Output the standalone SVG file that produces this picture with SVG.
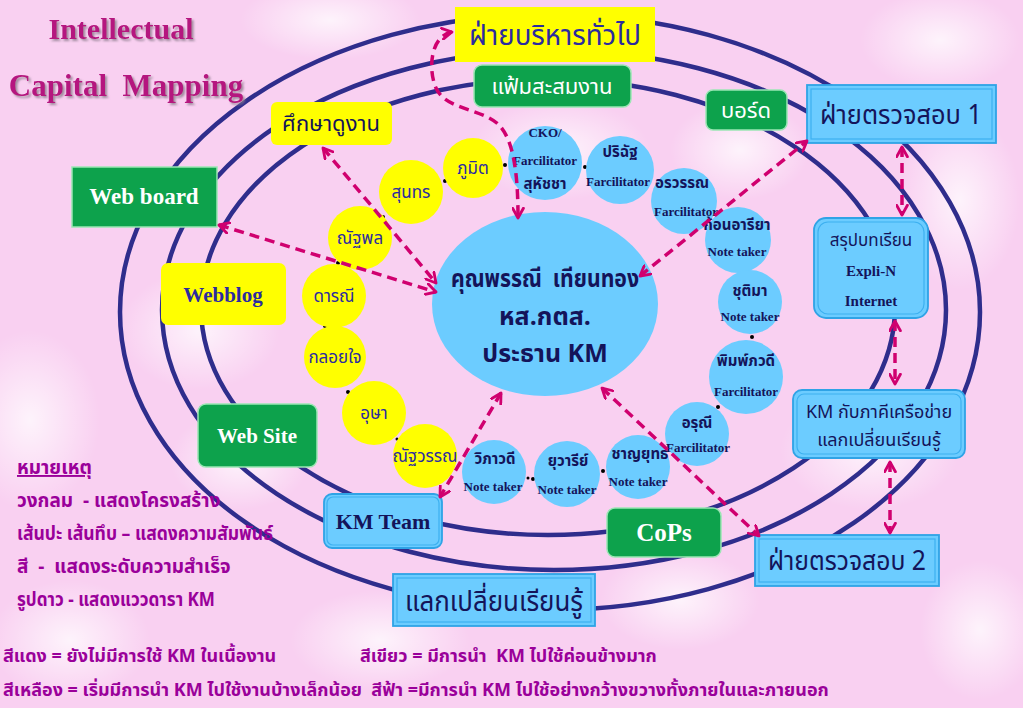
<svg xmlns="http://www.w3.org/2000/svg" width="1023" height="708" viewBox="0 0 1023 708">
<defs>
<radialGradient id="petal" cx="50%" cy="50%" r="50%">
<stop offset="0" stop-color="#ffffff" stop-opacity="0.75"/>
<stop offset="1" stop-color="#ffffff" stop-opacity="0"/>
</radialGradient>
<filter id="shadow" x="-10%" y="-30%" width="120%" height="160%">
<feDropShadow dx="2" dy="2" stdDeviation="0.8" flood-color="#8a7a8a" flood-opacity="0.8"/>
</filter>
<marker id="ah" viewBox="0 0 12 12" refX="10" refY="6" markerWidth="13" markerHeight="13" markerUnits="userSpaceOnUse" orient="auto-start-reverse">
<path d="M1,1 L10,6 L1,11" fill="none" stroke="#d0006f" stroke-width="2.6" stroke-linecap="round" stroke-linejoin="round"/>
</marker>
</defs>
<style>
.ring{fill:none;stroke:#2f2d8c;stroke-width:4.5}
.yb{fill:#ffff00}
.gb{fill:#0da24c;stroke:#9be6b4;stroke-width:1.5}
.bb{fill:#6cccff;stroke:#2fa3e6;stroke-width:1.8}
.bbi{fill:none;stroke:#3db0f0;stroke-width:1.2}
.yc{fill:#ffff00}
.bc{fill:#6cccff}
.dot{fill:#000}
.th{font-family:'Noto Sans Thai','Noto Serif Thai','Liberation Serif',serif}
.en{font-family:'Liberation Serif','Times New Roman',serif;font-weight:bold}
.navy{fill:#14145a}
.blue{fill:#2b2ba0}
.white{fill:#ffffff}
.mag{fill:#9a009a}
.conn{fill:none;stroke:#d0006f;stroke-width:3.5;stroke-dasharray:10 6;marker-start:url(#ah);marker-end:url(#ah)}
</style>
<rect x="0" y="0" width="1023" height="708" fill="#f9d0f1"/>
<g id="background-petals">
<ellipse cx="330" cy="20" rx="90" ry="40" fill="url(#petal)"/>
<ellipse cx="940" cy="40" rx="80" ry="50" fill="url(#petal)"/>
<ellipse cx="30" cy="420" rx="70" ry="90" fill="url(#petal)"/>
<ellipse cx="200" cy="330" rx="80" ry="60" fill="url(#petal)"/>
<ellipse cx="560" cy="150" rx="90" ry="50" fill="url(#petal)"/>
<ellipse cx="740" cy="150" rx="70" ry="50" fill="url(#petal)"/>
<ellipse cx="960" cy="200" rx="60" ry="90" fill="url(#petal)"/>
<ellipse cx="870" cy="450" rx="90" ry="60" fill="url(#petal)"/>
<ellipse cx="980" cy="630" rx="60" ry="70" fill="url(#petal)"/>
<ellipse cx="380" cy="640" rx="90" ry="50" fill="url(#petal)"/>
<ellipse cx="680" cy="600" rx="80" ry="50" fill="url(#petal)"/>
<ellipse cx="240" cy="460" rx="70" ry="50" fill="url(#petal)"/>
<ellipse cx="70" cy="640" rx="80" ry="60" fill="url(#petal)"/>
</g>
<g id="structure-rings">
<ellipse class="ring" cx="550" cy="312" rx="430" ry="298"/>
<ellipse class="ring" cx="554" cy="310" rx="392" ry="260"/>
<ellipse class="ring" cx="548" cy="307" rx="347" ry="228"/>
</g>
<g id="title" filter="url(#shadow)">
<text class="en" x="121" y="39" font-size="30" text-anchor="middle" fill="#b5127f">Intellectual</text>
<text class="en" x="126" y="96" font-size="31" text-anchor="middle" fill="#b5127f" xml:space="preserve">Capital  Mapping</text>
</g>
<g id="star-dots">
<circle class="dot" cx="445" cy="181" r="2"/>
<circle class="dot" cx="505" cy="165" r="2"/>
<circle class="dot" cx="585" cy="167" r="2"/>
<circle class="dot" cx="383" cy="217" r="2"/>
<circle class="dot" cx="338" cy="263" r="2"/>
<circle class="dot" cx="325" cy="326" r="2"/>
<circle class="dot" cx="348" cy="392" r="2"/>
<circle class="dot" cx="397" cy="439" r="1.5"/>
<circle class="dot" cx="528" cy="478" r="1.5"/>
<circle class="dot" cx="533" cy="479" r="2"/>
<circle class="dot" cx="603" cy="471" r="2"/>
<circle class="dot" cx="718" cy="407" r="2"/>
<circle class="dot" cx="752" cy="337" r="2"/>
<circle class="dot" cx="742" cy="269" r="2"/>
</g>
<g id="node-center">
<ellipse class="bc" cx="545" cy="304" rx="113" ry="92"/>
<text class="th navy" x="545" y="287" font-size="25" font-weight="bold" text-anchor="middle" textLength="188" lengthAdjust="spacingAndGlyphs" xml:space="preserve">คุณพรรณี  เทียนทอง</text>
<text class="th navy" x="545" y="325" font-size="25" font-weight="bold" text-anchor="middle">หส.กตส.</text>
<text class="th navy" x="545" y="362" font-size="25" font-weight="bold" text-anchor="middle">ประธาน KM</text>
</g>
<g id="node-admin">
<rect class="yb" x="455" y="7" width="200" height="55"/>
<text class="th blue" x="555" y="45" font-size="29" text-anchor="middle" textLength="172" lengthAdjust="spacingAndGlyphs">ฝ่ายบริหารทั่วไป</text>
</g>
<g id="node-portfolio">
<rect class="gb" x="474" y="65" width="157" height="42" rx="8"/>
<text class="th white" x="552" y="94" font-size="22" text-anchor="middle">แฟ้มสะสมงาน</text>
</g>
<g id="node-board">
<rect class="gb" x="706" y="90" width="81" height="40" rx="7"/>
<text class="th white" x="746" y="118" font-size="22" text-anchor="middle">บอร์ด</text>
</g>
<g id="node-audit1">
<rect class="bb" x="807" y="85" width="189" height="58"/>
<rect class="bbi" x="811" y="89" width="181" height="50"/>
<text class="th navy" x="901" y="124" font-size="27" text-anchor="middle" textLength="162" lengthAdjust="spacingAndGlyphs">ฝ่ายตรวจสอบ 1</text>
</g>
<g id="node-studyvisit">
<rect class="yb" x="271" y="102" width="121" height="43" rx="6"/>
<text class="th navy" x="331" y="131" font-size="22" text-anchor="middle">ศึกษาดูงาน</text>
</g>
<g id="node-webboard">
<rect class="gb" x="72" y="167" width="145" height="60"/>
<text class="en white" x="144" y="204" font-size="23" text-anchor="middle">Web board</text>
</g>
<g id="node-webblog">
<rect class="yb" x="161" y="263" width="125" height="62" rx="7"/>
<text class="en blue" x="223" y="302" font-size="21" text-anchor="middle">Webblog</text>
</g>
<g id="node-website">
<rect class="gb" x="198" y="404" width="119" height="63" rx="8"/>
<text class="en white" x="257" y="443" font-size="21" text-anchor="middle">Web Site</text>
</g>
<g id="node-kmteam">
<rect class="bb" x="324" y="494" width="118" height="54" rx="8"/>
<rect class="bbi" x="327" y="497" width="112" height="48" rx="6"/>
<text class="en navy" x="383" y="529" font-size="22" text-anchor="middle">KM Team</text>
</g>
<g id="node-exchange">
<rect class="bb" x="393" y="574" width="202" height="52"/>
<rect class="bbi" x="397" y="578" width="194" height="44"/>
<text class="th navy" x="494" y="611" font-size="28" text-anchor="middle" textLength="178" lengthAdjust="spacingAndGlyphs">แลกเปลี่ยนเรียนรู้</text>
</g>
<g id="node-cops">
<rect class="gb" x="607" y="508" width="114" height="49" rx="8"/>
<text class="en white" x="664" y="541" font-size="25" text-anchor="middle">CoPs</text>
</g>
<g id="node-audit2">
<rect class="bb" x="755" y="535" width="184" height="51"/>
<rect class="bbi" x="759" y="539" width="176" height="43"/>
<text class="th navy" x="847" y="570" font-size="27" text-anchor="middle" textLength="158" lengthAdjust="spacingAndGlyphs">ฝ่ายตรวจสอบ 2</text>
</g>
<g id="node-network">
<rect class="bb" x="793" y="390" width="172" height="68" rx="9"/>
<rect class="bbi" x="797" y="394" width="164" height="60" rx="7"/>
<text class="th navy" x="879" y="418" font-size="18" text-anchor="middle">KM กับภาคีเครือข่าย</text>
<text class="th navy" x="879" y="446" font-size="18" text-anchor="middle">แลกเปลี่ยนเรียนรู้</text>
</g>
<g id="node-lessons">
<rect class="bb" x="814" y="218" width="114" height="100" rx="12"/>
<rect class="bbi" x="818" y="222" width="106" height="92" rx="10"/>
<text class="th navy" x="871" y="246" font-size="17" text-anchor="middle">สรุปบทเรียน</text>
<text class="en navy" x="871" y="276" font-size="15" text-anchor="middle">Expli-N</text>
<text class="en navy" x="871" y="306" font-size="15" text-anchor="middle">Internet</text>
</g>
<g id="node-phumit"><circle class="yc" cx="473" cy="168" r="30"/><text class="th blue" x="473" y="174" font-size="17" text-anchor="middle">ภูมิต</text></g>
<g id="node-sunthon"><circle class="yc" cx="411" cy="192" r="32"/><text class="th blue" x="411" y="198" font-size="17" text-anchor="middle">สุนทร</text></g>
<g id="node-nattapol"><circle class="yc" cx="360" cy="238" r="32"/><text class="th blue" x="360" y="244" font-size="17" text-anchor="middle">ณัฐพล</text></g>
<g id="node-darani"><circle class="yc" cx="334" cy="296" r="32"/><text class="th blue" x="334" y="302" font-size="17" text-anchor="middle">ดารณี</text></g>
<g id="node-kloiyjai"><circle class="yc" cx="335" cy="357" r="31"/><text class="th blue" x="335" y="363" font-size="17" text-anchor="middle">กลอยใจ</text></g>
<g id="node-usa"><circle class="yc" cx="374" cy="413" r="32"/><text class="th blue" x="374" y="419" font-size="17" text-anchor="middle">อุษา</text></g>
<g id="node-nattawan"><circle class="yc" cx="425" cy="456" r="32"/><text class="th blue" x="425" y="462" font-size="17" text-anchor="middle">ณัฐวรรณ</text></g>
<g id="node-cko"><circle class="bc" cx="545" cy="163" r="37"/>
<text class="en navy" x="545" y="137" font-size="13" text-anchor="middle">CKO/</text>
<text class="en navy" x="545" y="165" font-size="13" text-anchor="middle">Farcilitator</text>
<text class="th navy" x="545" y="189" font-size="15" font-weight="bold" text-anchor="middle">สุหัชชา</text></g>
<g id="node-parichat"><circle class="bc" cx="620" cy="170" r="34"/>
<text class="th navy" x="620" y="157" font-size="15" font-weight="bold" text-anchor="middle">ปริฉัฐ</text>
<text class="en navy" x="618" y="186" font-size="13" text-anchor="middle">Farcilitator</text></g>
<g id="node-orawan"><circle class="bc" cx="684" cy="201" r="33"/>
<text class="th navy" x="682" y="188" font-size="15" font-weight="bold" text-anchor="middle">อรวรรณ</text>
<text class="en navy" x="686" y="216" font-size="13" text-anchor="middle">Farcilitator</text></g>
<g id="node-konariya"><circle class="bc" cx="738" cy="240" r="33"/>
<text class="th navy" x="737" y="230" font-size="15" font-weight="bold" text-anchor="middle">ก้อนอารียา</text>
<text class="en navy" x="737" y="256" font-size="13" text-anchor="middle">Note taker</text></g>
<g id="node-chutima"><circle class="bc" cx="750" cy="302" r="32"/>
<text class="th navy" x="750" y="296" font-size="15" font-weight="bold" text-anchor="middle">ชุติมา</text>
<text class="en navy" x="750" y="321" font-size="13" text-anchor="middle">Note taker</text></g>
<g id="node-pimpawadee"><circle class="bc" cx="746" cy="377" r="37"/>
<text class="th navy" x="746" y="366" font-size="15" font-weight="bold" text-anchor="middle">พิมพ์ภวดี</text>
<text class="en navy" x="746" y="396" font-size="13" text-anchor="middle">Farcilitator</text></g>
<g id="node-arunee"><circle class="bc" cx="697" cy="434" r="32"/>
<text class="th navy" x="697" y="428" font-size="15" font-weight="bold" text-anchor="middle">อรุณี</text>
<text class="en navy" x="698" y="452" font-size="13" text-anchor="middle">Farcilitator</text></g>
<g id="node-chanyut"><circle class="bc" cx="638" cy="467" r="32"/>
<text class="th navy" x="640" y="459" font-size="15" font-weight="bold" text-anchor="middle">ชาญยุทธ</text>
<text class="en navy" x="638" y="486" font-size="13" text-anchor="middle">Note taker</text></g>
<g id="node-yuwaree"><circle class="bc" cx="567" cy="474" r="33"/>
<text class="th navy" x="568" y="466" font-size="15" font-weight="bold" text-anchor="middle">ยุวารีย์</text>
<text class="en navy" x="567" y="494" font-size="13" text-anchor="middle">Note taker</text></g>
<g id="node-wipawadee"><circle class="bc" cx="494" cy="472" r="32"/>
<text class="th navy" x="495" y="464" font-size="15" font-weight="bold" text-anchor="middle">วิภาวดี</text>
<text class="en navy" x="493" y="491" font-size="13" text-anchor="middle">Note taker</text></g>
<g id="connectors">
<path class="conn" d="M452,32 C430,36 428,70 436,88 C446,110 480,108 498,124 C515,140 518,180 518,218"/>
<path class="conn" d="M323,148 L436,283"/>
<path class="conn" d="M219,225 L436,292"/>
<path class="conn" d="M640,276 L807,141"/>
<path class="conn" d="M501,393 L440,497"/>
<path class="conn" d="M602,388 L759,536"/>
<path class="conn" d="M902,147 L902,215"/>
<path class="conn" d="M895,321 L895,384"/>
<path class="conn" d="M890,462 L890,533"/>
</g>
<g id="legend">
<text class="th mag" x="17" y="474" font-size="19" font-weight="bold" text-decoration="underline">หมายเหตุ</text>
<text class="th mag" x="17" y="507" font-size="19" font-weight="bold" xml:space="preserve">วงกลม  - แสดงโครงสร้าง</text>
<text class="th mag" x="17" y="540" font-size="19" font-weight="bold" textLength="256" lengthAdjust="spacingAndGlyphs">เส้นปะ เส้นทึบ – แสดงความสัมพันธ์</text>
<text class="th mag" x="17" y="573" font-size="19" font-weight="bold" xml:space="preserve">สี  -  แสดงระดับความสำเร็จ</text>
<text class="th mag" x="17" y="606" font-size="19" font-weight="bold" textLength="198" lengthAdjust="spacingAndGlyphs">รูปดาว - แสดงแววดารา KM</text>
<text class="th mag" x="3" y="662" font-size="18" font-weight="bold">สีแดง = ยังไม่มีการใช้ KM ในเนื้องาน</text>
<text class="th mag" x="360" y="662" font-size="18" font-weight="bold" xml:space="preserve">สีเขียว = มีการนำ  KM ไปใช้ค่อนข้างมาก</text>
<text class="th mag" x="3" y="696" font-size="18" font-weight="bold" xml:space="preserve">สีเหลือง = เริ่มมีการนำ KM ไปใช้งานบ้างเล็กน้อย  สีฟ้า =มีการนำ KM ไปใช้อย่างกว้างขวางทั้งภายในและภายนอก</text>
</g>
</svg>
